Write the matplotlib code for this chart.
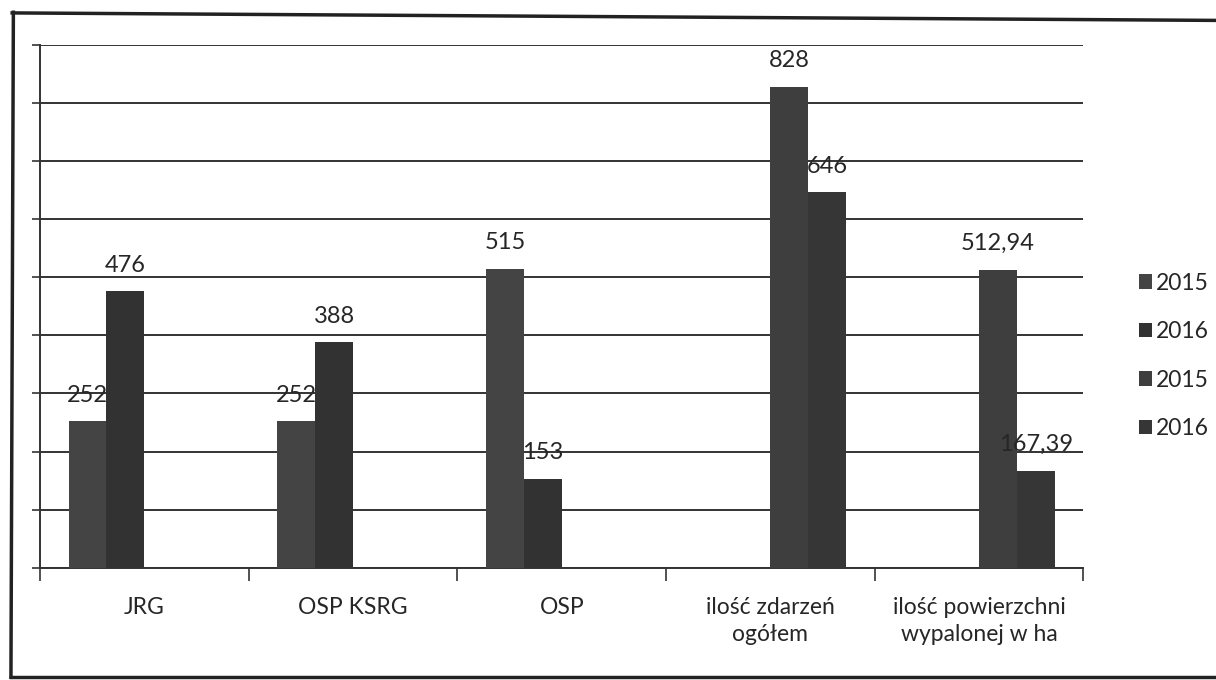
#!/usr/bin/env python3
"""Grouped bars: JRG / OSP interventions and burnt area, 2015 vs 2016."""
import matplotlib
matplotlib.use("Agg")
import matplotlib.pyplot as plt
import numpy as np
from matplotlib.lines import Line2D

categories = ["JRG", "OSP KSRG", "OSP", "ilość zdarzeń\nogółem",
              "ilość powierzchni\nwypalonej w ha"]
series_names = ["2015", "2016", "2015", "2016"]
# first pair of series covers the units, second pair the totals
s1_2015 = [252, 252, 515, 0, 0]
s2_2016 = [476, 388, 153, 0, 0]
s3_2015 = [0, 0, 0, 828, 512.94]
s4_2016 = [0, 0, 0, 646, 167.39]
y_max = 900
y_step = 100

colors = ["#444444", "#323232", "#3e3e3e", "#363636"]
FONT = ["Lato", "DejaVu Sans"]


def fmt(v):
    if float(v).is_integer():
        return f"{int(v)}"
    return f"{v:.2f}".replace(".", ",")


def main():
    plt.rcParams["font.family"] = FONT
    fig = plt.figure(figsize=(12.16, 6.8), dpi=100)
    ax = fig.add_axes([0.033, 0.165, 0.858, 0.769])

    x = np.arange(len(categories))
    w = 0.182
    all_series = [s1_2015, s2_2016, s3_2015, s4_2016]
    for i, (vals, name, c) in enumerate(zip(all_series, series_names, colors)):
        pos = x + (i - 1.5) * w
        ax.bar(pos, vals, w, color=c, label=name, zorder=3)
        for xi, v in zip(pos, vals):
            if v == 0:
                continue
            ax.annotate(fmt(v), (xi, v), xytext=(0, 14),
                        textcoords="offset points", ha="center",
                        va="baseline", fontsize=17, color="#262626",
                        zorder=4)

    ax.set_xlim(-0.5, len(categories) - 0.5)
    ax.set_ylim(0, y_max)
    ax.set_yticks(np.arange(0, y_max + 1, y_step))
    ax.set_yticklabels([])
    ax.tick_params(axis="y", length=6, width=1.2, color="#333333")
    ax.grid(True, axis="y", color="#333333", lw=1.4, zorder=0)

    ax.set_xticks(x)
    ax.set_xticklabels(categories, fontsize=16.5, color="#262626",
                       linespacing=1.35)
    ax.tick_params(axis="x", which="major", length=0, pad=21)
    ax.set_xticks(np.arange(-0.5, len(categories)), minor=True)
    ax.tick_params(axis="x", which="minor", length=9, width=1.2,
                   color="#333333")

    for side in ("top", "right"):
        ax.spines[side].set_visible(False)
    for side in ("left", "bottom"):
        ax.spines[side].set_color("#333333")
        ax.spines[side].set_linewidth(1.4)

    leg = ax.legend(loc="center left", bbox_to_anchor=(1.044, 0.405),
                    borderaxespad=0, frameon=False, fontsize=16.5,
                    handlelength=0.6, handleheight=0.6, handletextpad=0.15,
                    labelspacing=1.2)
    for t in leg.get_texts():
        t.set_color("#262626")

    # scanned page frame
    fk = dict(color="#222222", lw=2.5, transform=fig.transFigure)
    fig.add_artist(Line2D([0.010, 1.0], [0.981, 0.970], **fk))
    fig.add_artist(Line2D([0.011, 0.009], [0.982, 0.004], **fk))
    fig.add_artist(Line2D([0.009, 1.0], [0.004, 0.004], **fk))

    fig.savefig("out.png", dpi=100)


if __name__ == "__main__":
    main()
